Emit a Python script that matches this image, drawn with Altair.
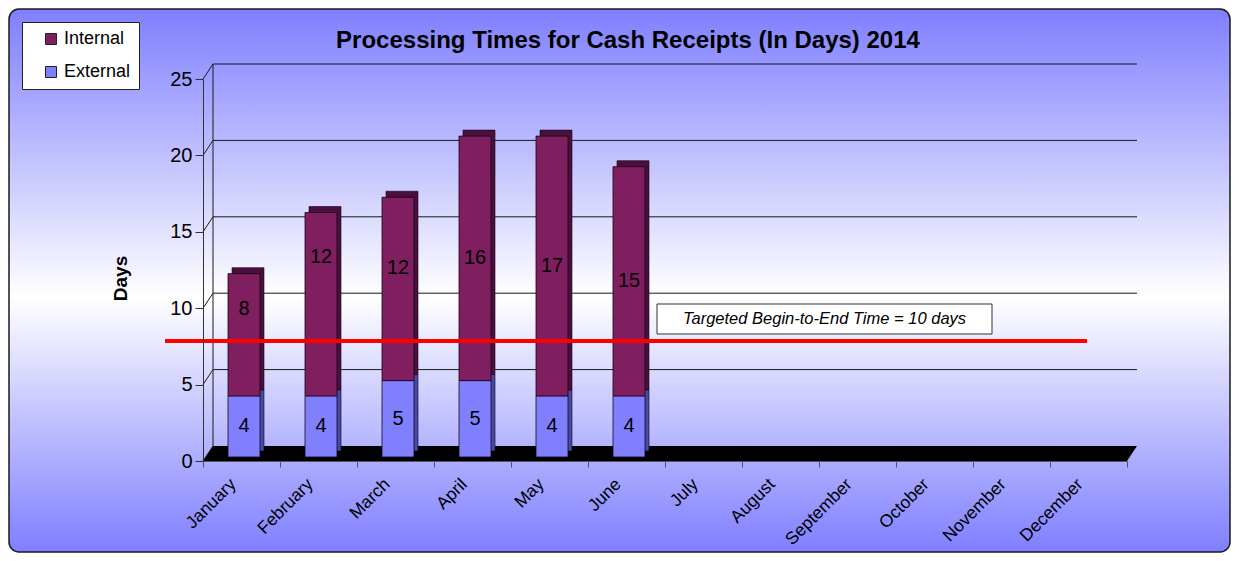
import altair as alt
import pandas as pd

# ---------------- data ----------------
months = ["January", "February", "March", "April", "May", "June",
          "July", "August", "September", "October", "November", "December"]
data_months = ["January", "February", "March", "April", "May", "June"]
external_days = [4, 4, 5, 5, 4, 4]
internal_days = [8, 12, 12, 16, 17, 15]
# heights (in days) at which the Internal value labels sit in the picture
internal_label_days = [9.7, 13.1, 12.4, 13.0, 12.5, 11.5]
series_names = ["Internal", "External"]
y_ticks = [0, 5, 10, 15, 20, 25]
wall_lines = [5, 10, 15, 20, 25]
target_line_days = [7.86]
target_text = "Targeted Begin-to-End Time = 10 days"
title_text = "Processing Times for Cash Receipts (In Days) 2014"

# ---------------- styles ----------------
FONT = "Liberation Sans"
series_colors = ["#7F1F5F", "#8080FF"]
internal_side = "#4A0F3C"
external_side = "#4848A8"
W, H = 924, 382
PL, PT, PR, PB = 195, 71, 104, 92
DX, DY = 10, 15  # 3-D depth of the back wall

rows = []
for m, e, i in zip(data_months, external_days, internal_days):
    rows.append({"month": m, "series": "External", "days": e, "ord": 0})
    rows.append({"month": m, "series": "Internal", "days": i, "ord": 1})
bars_df = pd.DataFrame(rows)
ext_df = pd.DataFrame({"month": data_months, "days": external_days})
int_df = pd.DataFrame({"month": data_months, "days": internal_days,
                       "at": internal_label_days})
wall_df = pd.DataFrame({"days": wall_lines})
tick_df = pd.DataFrame({"days": y_ticks})
target_df = pd.DataFrame({"days": target_line_days})
one = pd.DataFrame({"k": [0]})

x_scale = alt.Scale(domain=months, paddingInner=0, paddingOuter=0)
y_scale = alt.Scale(domain=[0, 25], nice=False, zero=True)

x_axis = alt.Axis(title=None, labelAngle=-45, labelAlign="right", labelBaseline="top",
                  labelFont=FONT, labelFontSize=17.5, labelColor="black",
                  labelPadding=8, labelOffset=-15, tickBand="extent", tickSize=6,
                  tickColor="#555555", domainColor="#555555", grid=False, zindex=1)
y_axis = alt.Axis(values=y_ticks, title="Days", titleFont=FONT, titleFontSize=19,
                  titleFontWeight="bold", titleColor="black", titleAngle=-90,
                  titleX=-83, titleY=199, titleAlign="center", titleBaseline="middle",
                  labelFont=FONT, labelFontSize=20, labelColor="black", labelPadding=3,
                  tickSize=8, tickColor="#333333", domainColor="#333333",
                  grid=False, zindex=1)


def X(field):
    return alt.X(field, scale=x_scale, axis=x_axis)


def Y(field, **kw):
    return alt.Y(field, scale=y_scale, axis=y_axis, **kw)


gradient = alt.LinearGradient(
    gradient="linear", x1=0, y1=0, x2=0, y2=1,
    stops=[alt.GradientStop(offset=0, color="#7F7FFF"),
           alt.GradientStop(offset=0.53, color="#FFFFFF"),
           alt.GradientStop(offset=1, color="#7F7FFF")],
)

background = alt.Chart(one).mark_rect(
    fill=gradient, stroke="#1a1a1a", strokeWidth=1.5, cornerRadius=10
).encode(x=alt.value(-PL + 1), x2=alt.value(W + PR - 1),
         y=alt.value(-PT + 1), y2=alt.value(H + PB - 1))

title = alt.Chart(one).mark_text(
    text=title_text, font=FONT, fontSize=24, fontWeight="bold", color="black",
    align="center", baseline="alphabetic"
).encode(x=alt.value(425), y=alt.value(-31))

# black floor: a parallelogram drawn as a custom symbol
floor_path = "M-1,0.01606L0.97859,0.01606L1,-0.01606L-0.97859,-0.01606Z"
floor = alt.Chart(one).mark_point(
    shape=floor_path, size=(W + DX) ** 2, filled=True, fill="black",
    strokeWidth=0, opacity=1
).encode(x=alt.value((W + DX) / 2), y=alt.value(H - DY / 2))

wall_grid = alt.Chart(wall_df).mark_rule(
    color="#1a1a1a", strokeWidth=1, yOffset=-DY
).encode(y=Y("days:Q"), x=alt.value(DX), x2=alt.value(W + DX))

# short diagonal strokes joining each front tick to the back wall
connectors = alt.Chart(tick_df).mark_point(
    shape="M-1,1.5L1,-1.5", size=100, filled=False, stroke="#1a1a1a",
    strokeWidth=1, opacity=1, yOffset=-DY / 2
).encode(y=Y("days:Q"), x=alt.value(DX / 2))

wall_edge = alt.Chart(one).mark_rule(color="#1a1a1a", strokeWidth=1).encode(
    x=alt.value(DX), y=alt.value(-DY), y2=alt.value(H - DY))

shadow = alt.Chart(bars_df).mark_bar(
    width=32, xOffset=6.5, yOffset=-10, y2Offset=-10,
    stroke="#120412", strokeWidth=0.6
).encode(
    x=X("month:N"),
    y=Y("days:Q", stack="zero"),
    order=alt.Order("ord:Q"),
    color=alt.condition(alt.datum.series == "Internal",
                        alt.value(internal_side), alt.value(external_side)),
)

front = alt.Chart(bars_df).mark_bar(
    width=32, xOffset=2.5, yOffset=-4, y2Offset=-4,
    stroke="#140614", strokeWidth=0.8
).encode(
    x=X("month:N"),
    y=Y("days:Q", stack="zero"),
    order=alt.Order("ord:Q"),
    color=alt.Color("series:N", scale=alt.Scale(domain=series_names, range=series_colors),
                    legend=alt.Legend(title=None, orient="none", legendX=-181, legendY=-57,
                                      fillColor="white", strokeColor="#222222",
                                      padding=8, symbolType="square", symbolSize=121,
                                      symbolStrokeColor="#222222", symbolStrokeWidth=1,
                                      symbolOffset=12, labelOffset=4, rowPadding=15,
                                      labelFont=FONT, labelFontSize=18,
                                      labelColor="black")),
)

ext_labels = alt.Chart(ext_df).transform_calculate(
    mid="datum.days / 2"
).mark_text(font=FONT, fontSize=20, color="black", xOffset=2.5, yOffset=-4,
            baseline="middle", align="center").encode(
    x=X("month:N"), y=Y("mid:Q"), text=alt.Text("days:Q"),
)

int_labels = alt.Chart(int_df).mark_text(
    font=FONT, fontSize=20, color="black", xOffset=2.5, yOffset=-4,
    baseline="middle", align="center"
).encode(x=X("month:N"), y=Y("at:Q"), text=alt.Text("days:Q"))

target_line = alt.Chart(target_df).mark_rule(color="#FF0000", strokeWidth=4).encode(
    y=Y("days:Q"), x=alt.value(-38), x2=alt.value(884)
)

note_box = alt.Chart(one).mark_rect(fill="white", stroke="#333333", strokeWidth=1).encode(
    x=alt.value(454), x2=alt.value(789), y=alt.value(225), y2=alt.value(255)
)
note_text = alt.Chart(one).mark_text(
    text=target_text, font=FONT, fontSize=16.5, fontStyle="italic", color="black",
    align="center", baseline="middle"
).encode(x=alt.value(621.5), y=alt.value(240))

chart = alt.layer(
    background, title, floor, wall_grid, connectors, wall_edge,
    shadow, front, ext_labels, int_labels, target_line, note_box, note_text
).properties(
    width=W, height=H,
    padding={"left": PL, "top": PT, "right": PR, "bottom": PB},
    autosize=alt.AutoSizeParams(type="none"),
    background="white",
).configure_view(stroke=None)

chart.save("out.html", embed_options={"renderer": "svg", "actions": False})
